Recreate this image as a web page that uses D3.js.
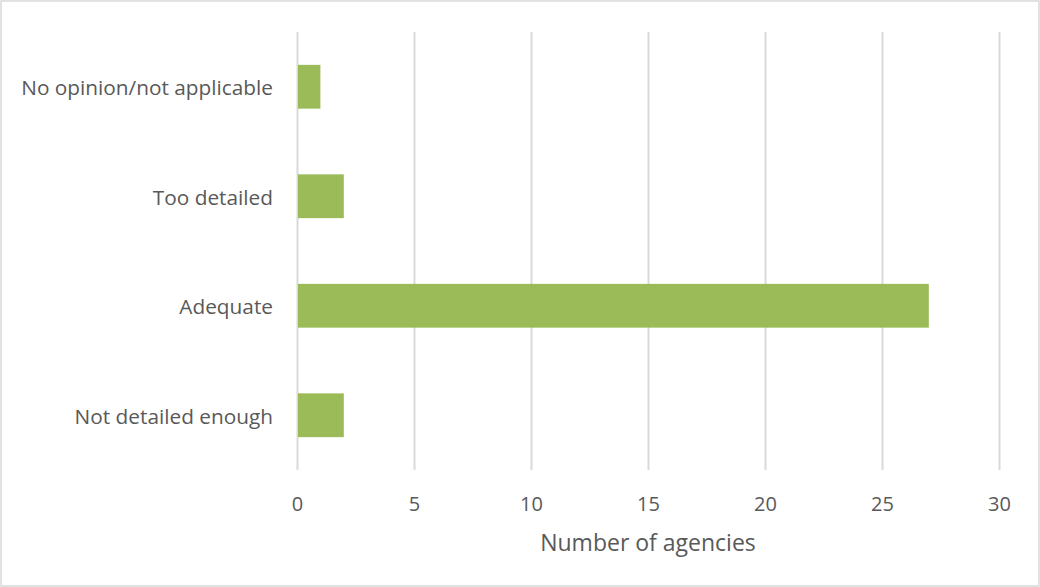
<!DOCTYPE html>
<html><head><meta charset="utf-8">
<script src="https://cdn.jsdelivr.net/npm/d3@7"></script>
<style>body{margin:0;background:#fff}svg{display:block}</style>
</head><body>
<svg id="c" width="1040" height="587"></svg>
<script>
const categories = ["No opinion/not applicable", "Too detailed", "Adequate", "Not detailed enough"];
const values = [1, 2, 27, 2];
const tickValues = [0, 5, 10, 15, 20, 25, 30];
const xTitle = "Number of agencies";

const svg = d3.select("#c");
const font = "'Open Sans', 'Liberation Sans', sans-serif";
const m = {left: 297, right: 41, top: 32, bottom: 117};
const W = 1040, H = 587;

svg.append("rect").attr("x", 1).attr("y", 1).attr("width", W - 2).attr("height", H - 2)
  .attr("fill", "#fff").attr("stroke", "#d9d9d9").attr("stroke-width", 1.5);

const x = d3.scaleLinear().domain([0, 30]).range([m.left, W - m.right]);
const y = d3.scaleBand().domain(categories).range([m.top, H - m.bottom]).paddingInner(0.6).paddingOuter(0.3);

const gx = svg.append("g").attr("transform", `translate(0,${H - m.bottom})`)
  .call(d3.axisBottom(x).tickValues(tickValues).tickSize(-(H - m.bottom - m.top)).tickPadding(27));
gx.select(".domain").remove();
gx.selectAll(".tick line").attr("stroke", "#d9d9d9").attr("stroke-width", 2);
gx.selectAll(".tick text").attr("fill", "#595959").attr("font-family", font).attr("font-size", 20);

svg.append("g").selectAll("rect").data(categories).join("rect")
  .attr("x", x(0) + 1).attr("y", d => y(d))
  .attr("width", (d, i) => x(values[i]) - x(0) - 1).attr("height", y.bandwidth())
  .attr("fill", "#9bbb59");

const gy = svg.append("g").attr("transform", `translate(${m.left},0)`)
  .call(d3.axisLeft(y).tickSize(0).tickPadding(24));
gy.select(".domain").remove();
gy.selectAll(".tick text").attr("fill", "#595959").attr("font-family", font).attr("font-size", 20.8)
  .attr("dy", "0.4em");

svg.append("text").attr("x", x(15)).attr("y", 551).attr("text-anchor", "middle")
  .attr("fill", "#595959").attr("font-family", font).attr("font-size", 23).text(xTitle);
</script>
</body></html>
